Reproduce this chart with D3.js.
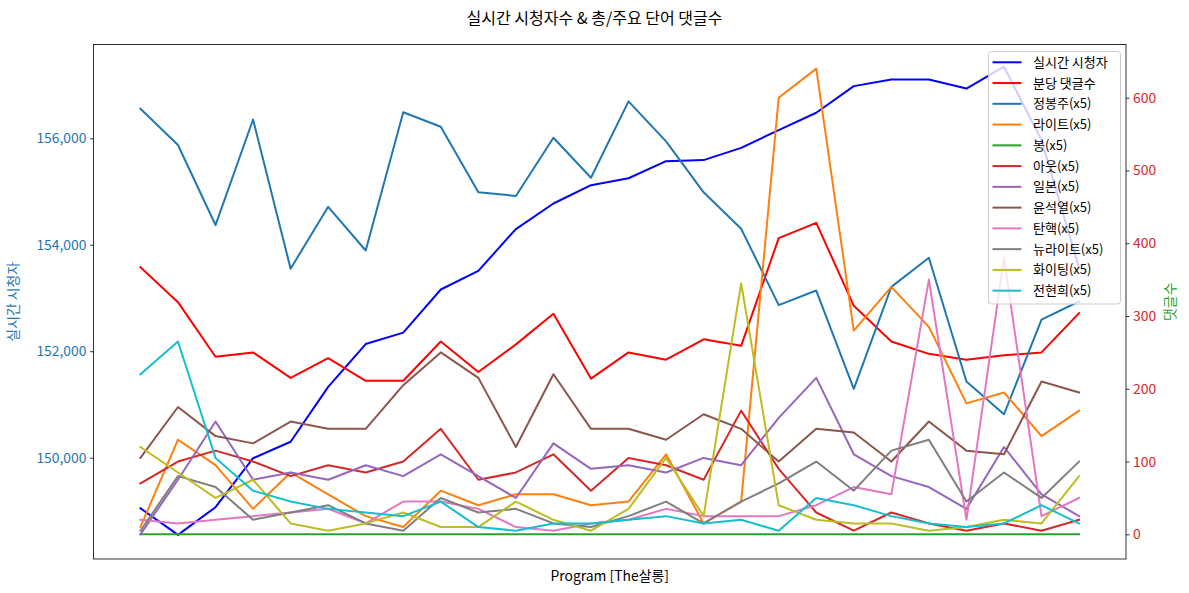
<!DOCTYPE html>
<html>
<head>
<meta charset="utf-8">
<script src="https://cdn.jsdelivr.net/npm/d3@7"></script>
<style>
  html, body { margin: 0; padding: 0; background: #fff; }
  svg { display: block; font-family: "Noto Sans CJK KR", "Noto Sans", sans-serif; }
</style>
</head>
<body>
<svg id="chart" width="1189" height="593"></svg>
<script>
// ---- data ----
const points = d3.range(26);
const viewers = [149050, 148550, 149070, 149990, 150300, 151330, 152135, 152350, 153160, 153510, 154295, 154775, 155120, 155250, 155570, 155590, 155820, 156155, 156480, 156980, 157105, 157105, 156935, 157345, 155965, 153565];
const perMinute = [367, 319, 244, 250, 215, 242, 211, 211, 265, 223, 261, 303, 214, 250, 240, 268, 259, 407, 428, 314, 265, 248, 240, 246, 250, 304];
const jeongBongJu = [585, 535, 425, 570, 365, 450, 390, 580, 560, 470, 465, 545, 490, 595, 540, 470, 420, 315, 335, 200, 340, 380, 210, 165, 295, 320];
const right = [10, 130, 95, 35, 85, 55, 25, 10, 60, 40, 55, 55, 40, 45, 110, 15, 45, 600, 640, 280, 340, 285, 180, 195, 135, 170];
const bong = [0, 0, 0, 0, 0, 0, 0, 0, 0, 0, 0, 0, 0, 0, 0, 0, 0, 0, 0, 0, 0, 0, 0, 0, 0, 0];
const out = [70, 100, 115, 100, 80, 95, 85, 100, 145, 75, 85, 110, 60, 105, 95, 75, 170, 90, 30, 5, 30, 15, 5, 15, 5, 20];
const japan = [0, 75, 155, 75, 85, 75, 95, 80, 110, 80, 50, 125, 90, 95, 85, 105, 95, 160, 215, 110, 80, 65, 35, 120, 55, 25];
const yoon = [105, 175, 135, 125, 155, 145, 145, 205, 250, 215, 120, 220, 145, 145, 130, 165, 145, 100, 145, 140, 100, 155, 115, 110, 210, 195];
const impeach = [20, 15, 20, 25, 30, 35, 15, 45, 45, 35, 10, 5, 15, 20, 35, 25, 25, 25, 40, 65, 55, 350, 20, 380, 25, 50];
const newRight = [5, 80, 65, 20, 30, 40, 15, 5, 50, 30, 35, 15, 10, 25, 45, 15, 45, 70, 100, 60, 115, 130, 45, 85, 50, 100];
const fighting = [120, 85, 50, 75, 15, 5, 15, 30, 10, 10, 45, 20, 5, 35, 105, 25, 345, 40, 20, 15, 15, 5, 10, 20, 15, 80];
const jeonHyunHee = [220, 265, 105, 60, 45, 35, 30, 25, 45, 10, 5, 15, 15, 20, 25, 15, 20, 5, 50, 40, 25, 15, 10, 15, 40, 15];

const leftTicks = [150000, 152000, 154000, 156000];
const rightTicks = [0, 100, 200, 300, 400, 500, 600];

const title = "실시간 시청자수 & 총/주요 단어 댓글수";
const xLabel = "Program [The살롱]";
const leftLabel = "실시간 시청자";
const rightLabel = "댓글수";

const rightSeries = [
  { name: "분당 댓글수", values: perMinute, color: "#ff0000" },
  { name: "정봉주(x5)", values: jeongBongJu, color: "#1f77b4" },
  { name: "라이트(x5)", values: right, color: "#ff7f0e" },
  { name: "봉(x5)", values: bong, color: "#2ca02c" },
  { name: "아웃(x5)", values: out, color: "#d62728" },
  { name: "일본(x5)", values: japan, color: "#9467bd" },
  { name: "윤석열(x5)", values: yoon, color: "#8c564b" },
  { name: "탄핵(x5)", values: impeach, color: "#e377c2" },
  { name: "뉴라이트(x5)", values: newRight, color: "#7f7f7f" },
  { name: "화이팅(x5)", values: fighting, color: "#bcbd22" },
  { name: "전현희(x5)", values: jeonHyunHee, color: "#17becf" }
];
const leftSeries = { name: "실시간 시청자", values: viewers, color: "#0000ff" };

// ---- layout ----
const svg = d3.select("#chart");
const L = 93.5, R = 1126, T = 44.5, B = 559;

const x = d3.scaleLinear().domain([-1.25, 26.25]).range([L, R]);
const yL = d3.scaleLinear().domain([148097, 157762]).range([B, T]);
const yR = d3.scaleLinear().domain([-33.9, 673.1]).range([B, T]);

svg.append("rect").attr("width", 1189).attr("height", 593).attr("fill", "#fff");

// title
svg.append("text").attr("x", 594.5).attr("y", 24).attr("text-anchor", "middle")
  .attr("font-size", 16).attr("fill", "#000").text(title);

const clip = svg.append("clipPath").attr("id", "clip").append("rect")
  .attr("x", L).attr("y", T).attr("width", R - L).attr("height", B - T);

const plot = svg.append("g").attr("clip-path", "url(#clip)");

const lineL = d3.line().x((d, i) => x(points[i])).y(d => yL(d));
const lineR = d3.line().x((d, i) => x(points[i])).y(d => yR(d));

plot.append("path").datum(leftSeries.values).attr("d", lineL)
  .attr("fill", "none").attr("stroke", leftSeries.color).attr("stroke-width", 2)
  .attr("stroke-linejoin", "round").attr("stroke-linecap", "square");

rightSeries.forEach(s => {
  plot.append("path").datum(s.values).attr("d", lineR)
    .attr("fill", "none").attr("stroke", s.color).attr("stroke-width", 2)
    .attr("stroke-linejoin", "round").attr("stroke-linecap", "square");
});

// axes
const axL = d3.axisLeft(yL).tickValues(leftTicks).tickFormat(d3.format(",")).tickSize(3.5).tickPadding(3.5);
const gL = svg.append("g").attr("transform", `translate(${L},0)`).call(axL);
gL.select(".domain").remove();
gL.selectAll("line").attr("stroke", "#000").attr("stroke-width", 0.8);
gL.selectAll("text").attr("fill", "#1f77b4").attr("font-size", 13.9)
  .attr("font-family", "'Noto Sans CJK KR', 'Noto Sans', sans-serif");

const axR = d3.axisRight(yR).tickValues(rightTicks).tickSize(3.5).tickPadding(3.5);
const gR = svg.append("g").attr("transform", `translate(${R},0)`).call(axR);
gR.select(".domain").remove();
gR.selectAll("line").attr("stroke", "#000").attr("stroke-width", 0.8);
gR.selectAll("text").attr("fill", "#d62728").attr("font-size", 13.9)
  .attr("font-family", "'Noto Sans CJK KR', 'Noto Sans', sans-serif");

// frame
svg.append("rect").attr("x", L).attr("y", T).attr("width", R - L).attr("height", B - T)
  .attr("fill", "none").attr("stroke", "#000").attr("stroke-width", 0.8);

// axis labels
svg.append("text").attr("x", (L + R) / 2).attr("y", 581).attr("text-anchor", "middle")
  .attr("font-size", 13.9).attr("fill", "#000").text(xLabel);
svg.append("text").attr("transform", `translate(18,${(T + B) / 2}) rotate(-90)`)
  .attr("text-anchor", "middle").attr("font-size", 13.9).attr("fill", "#1f77b4").text(leftLabel);
svg.append("text").attr("transform", `translate(1175,${(T + B) / 2}) rotate(-90)`)
  .attr("text-anchor", "middle").attr("font-size", 13.9).attr("fill", "#2ca02c").text(rightLabel);

// legend
const legendItems = [leftSeries].concat(rightSeries);
const lg = svg.append("g");
lg.append("rect").attr("x", 988.5).attr("y", 51.5).attr("width", 132).attr("height", 252.5)
  .attr("rx", 3).attr("fill", "#fff").attr("fill-opacity", 0.8)
  .attr("stroke", "#cccccc").attr("stroke-width", 1);
legendItems.forEach((s, i) => {
  const yy = 62.3 + i * 20.76;
  lg.append("line").attr("x1", 992.5).attr("x2", 1021.5).attr("y1", yy).attr("y2", yy)
    .attr("stroke", s.color).attr("stroke-width", 2);
  lg.append("text").attr("x", 1033).attr("y", yy).attr("dy", "0.35em")
    .attr("font-size", 13).attr("fill", "#000").text(s.name);
});
</script>
</body>
</html>
